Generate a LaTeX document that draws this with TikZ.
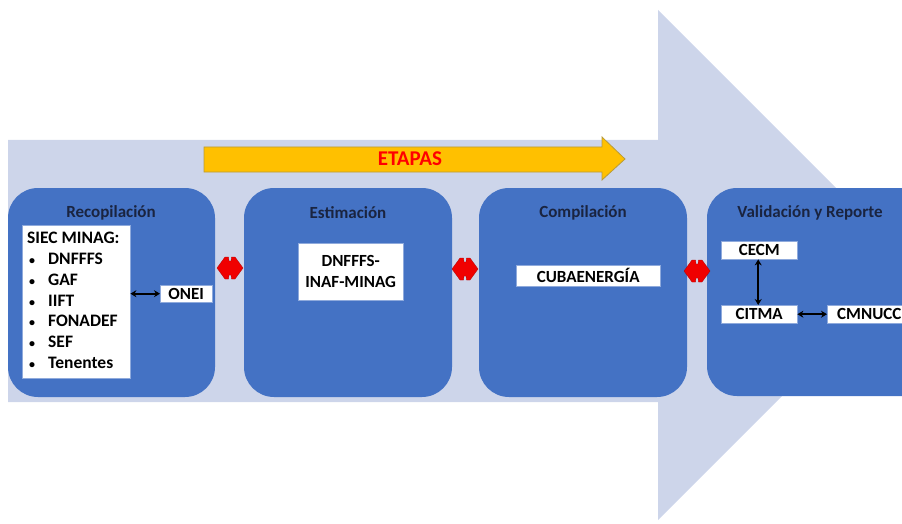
\documentclass[tikz,border=0pt]{standalone}
\usepackage{fontspec}
\setmainfont{Carlito}
\usetikzlibrary{arrows.meta}
\definecolor{bgarrow}{HTML}{CDD5EA}
\definecolor{boxblue}{HTML}{4472C4}
\definecolor{etapay}{HTML}{FFC000}
\definecolor{etapaline}{HTML}{B89B3A}
\definecolor{titlecol}{HTML}{1A2440}
\definecolor{redarr}{HTML}{F00000}
\tikzset{
  stage/.style={fill=boxblue, rounded corners=30pt},
  stitle/.style={font=\fontsize{17}{20}\selectfont\bfseries, text=titlecol, anchor=center},
  wbox/.style={fill=white, draw=boxblue!60!white, line width=0.4pt, inner sep=0pt, text=black, anchor=north west},
  wtext/.style={font=\fontsize{17}{20}\selectfont\bfseries, text=black},
  thin arrow/.style={{Stealth[length=6pt,width=7pt]}-{Stealth[length=6pt,width=7pt]}, line width=1.6pt, black},
  redshape/.style={fill=redarr, draw=red!70!black, line width=0.3pt}
}
\newcommand{\redarrow}[2]{%
  \fill[redshape] (#1-13,#2) -- (#1-5,#2-11) -- (#1-1.5,#2-11) -- (#1-1,#2-7) -- (#1+1,#2-7) -- (#1+1.5,#2-11) -- (#1+5,#2-11) -- (#1+13,#2) -- (#1+5,#2+11) -- (#1+1.5,#2+11) -- (#1+1,#2+7) -- (#1-1,#2+7) -- (#1-1.5,#2+11) -- (#1-5,#2+11) -- cycle;}
\newcommand{\bul}{\makebox[21pt][l]{\hspace{2pt}{\fontsize{12}{12}\selectfont •}}}
\begin{document}
\begin{tikzpicture}[x=1pt,y=-1pt]
\useasboundingbox (0,0) rectangle (902,524);
\clip (0,0) rectangle (902,524);
% big background arrow
\fill[bgarrow] (8,140) -- (658,140) -- (658,10) -- (913,265) -- (658,520) -- (658,402) -- (8,402) -- cycle;
% yellow ETAPAS arrow
\draw[fill=etapay, draw=etapaline, line width=0.8pt] (204,147) -- (602,147) -- (602,137) -- (625,159) -- (602,180) -- (602,172) -- (204,172) -- cycle;
\node[font=\fontsize{21}{24}\selectfont\bfseries, text=red] (etapas) at (410,159) {ETAPAS};
% stage boxes
\fill[stage] (8,188) rectangle (215,397);
\fill[stage] (244,188) rectangle (452,397);
\fill[stage] (479,188) rectangle (687,397);
\fill[stage] (707,188) rectangle (940,396);
\node[stitle] (t1) at (111,213) {Recopilación};
\node[stitle] (t2) at (348,213) {Estimación};
\node[stitle] (t3) at (583,213) {Compilación};
\node[stitle] (t4) at (810,213) {Validación y Reporte};
% Recopilación content
\node[wbox, minimum width=108pt, minimum height=153pt] (siec) at (22,225) {};
\node[font=\fontsize{17.5}{20.8}\selectfont\bfseries, anchor=north west, align=left, inner sep=0pt] (siectext) at (27,232) {SIEC MINAG:\\
\bul DNFFFS\\
\bul GAF\\
\bul IIFT\\
\bul FONADEF\\
\bul SEF\\
\bul Tenentes};
\node[wbox, minimum width=52pt, minimum height=17pt] (onei) at (160,285) {};
\node[wtext] at (onei.center) {ONEI};
\draw[thin arrow] (siec.east |- onei.west) -- (onei.west);
% Estimación content
\node[wbox, minimum width=105pt, minimum height=57pt] (dn) at (298,243) {};
\node[wtext, align=center, font=\fontsize{17}{21}\selectfont\bfseries] at (dn.center) {DNFFFS-\\INAF-MINAG};
% Compilación content
\node[wbox, minimum width=144pt, minimum height=21pt] (cuba) at (516,265) {};
\node[wtext] at (cuba.center) {CUBAENERGÍA};
% Validación content
\node[wbox, minimum width=76pt, minimum height=18pt] (cecm) at (721,241) {};
\node[wtext] at (cecm.center) {CECM};
\node[wbox, minimum width=76pt, minimum height=18pt] (citma) at (721,305) {};
\node[wtext] at (citma.center) {CITMA};
\node[wbox, minimum width=90pt, minimum height=18pt] (cmnucc) at (827,305) {};
\node[wtext, anchor=west, inner sep=0pt] at ([xshift=10pt]cmnucc.west) {CMNUCC};
\draw[thin arrow] ([xshift=-1pt]cecm.south) -- ([xshift=-1pt]citma.north);
\draw[thin arrow] (citma.east) -- (cmnucc.west);
% red double arrows
\redarrow{230}{268}
\redarrow{465}{269}
\redarrow{697}{271}
\end{tikzpicture}
\end{document}
